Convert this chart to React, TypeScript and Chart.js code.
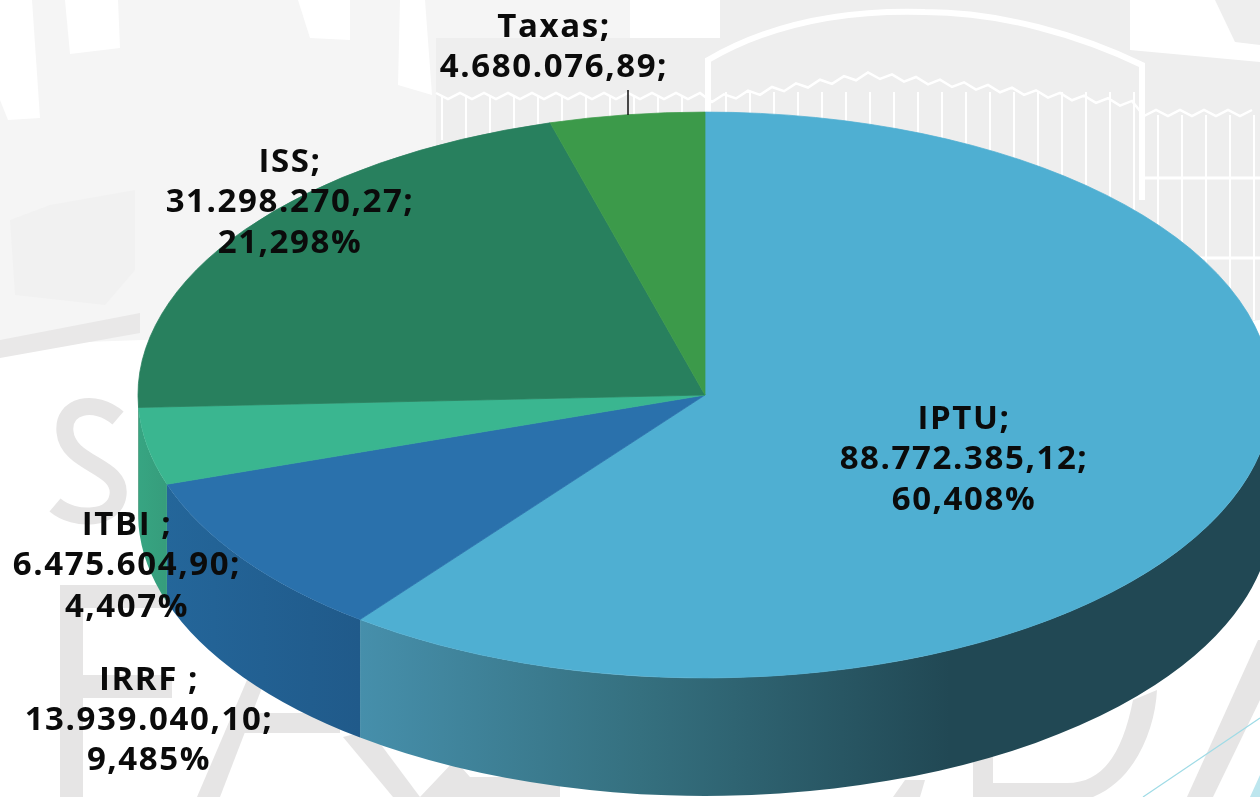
import React, { useEffect, useRef } from "react";
import { Chart, registerables } from "chart.js";

Chart.register(...registerables);

const categories = ["IPTU", "IRRF", "ITBI", "ISS", "Taxas"];
// Slice sizes: the green Taxas wedge covers about 4,4% of the
// circle, so it is larger than the value printed in its label.
const seriesValues = [88772385.12, 13939040.1, 6475604.9, 31298270.27, 6470000];
const sliceColors = ["#4fafd2", "#2a71ac", "#3ab690", "#28805e", "#3c9a4a"];
const labelTexts = [
  ["IPTU;", "88.772.385,12;", "60,408%"],
  ["IRRF ;", "13.939.040,10;", "9,485%"],
  ["ITBI ;", "6.475.604,90;", "4,407%"],
  ["ISS;", "31.298.270,27;", "21,298%"],
  ["Taxas;", "4.680.076,89;"],
];
const labelCenters = [964, 149, 127, 290, 554];
const labelBaselines = [
  [429, 469, 510],
  [690, 730, 770],
  [535, 575, 617],
  [172, 212, 253],
  [37, 77],
];
const sideStops: [number, string][][] = [
  [[360, "#468fab"], [640, "#35707f"], [950, "#214854"], [1260, "#214854"]],
  [[165, "#24669a"], [360, "#205a8a"]],
  [[138, "#37a582"], [165, "#369d7c"]],
  [[0, "#28805e"], [1, "#28805e"]],
  [[0, "#3c9a4a"], [1, "#3c9a4a"]],
];

const SQUASH = 0.499;
const DEPTH = 118;

const pie3d = {
  id: "pie3d",
  beforeDatasetDraw(chart: any) {
    const { ctx } = chart;
    const arcs = chart.getDatasetMeta(0).data;
    arcs.forEach((arc: any, i: number) => {
      const { x: cx, y: cy, outerRadius: R } = arc;
      const s = arc.startAngle;
      const e = arc.endAngle;
      for (const shift of [0, -2 * Math.PI]) {
        const a = Math.max(s + shift, 0);
        const b = Math.min(e + shift, Math.PI);
        if (b <= a) continue;
        const stops = sideStops[i];
        const x0 = stops[0][0];
        const x1 = stops[stops.length - 1][0];
        const g = ctx.createLinearGradient(x0, 0, x1, 0);
        stops.forEach(([p, c]) => g.addColorStop(Math.min(1, Math.max(0, (p - x0) / (x1 - x0))), c));
        ctx.save();
        ctx.fillStyle = g;
        ctx.beginPath();
        ctx.ellipse(cx, cy, R, R * SQUASH, 0, a, b, false);
        ctx.ellipse(cx, cy + DEPTH, R, R * SQUASH, 0, b, a, true);
        ctx.closePath();
        ctx.fill();
        ctx.restore();
      }
    });
    const first = arcs[0];
    ctx.save();
    ctx.translate(first.x, first.y);
    ctx.scale(1, SQUASH);
    ctx.translate(-first.x, -first.y);
  },
  afterDatasetDraw(chart: any) {
    chart.ctx.restore();
  },
  afterDraw(chart: any) {
    const { ctx } = chart;
    ctx.save();
    ctx.fillStyle = "#0b0b0b";
    ctx.textAlign = "center";
    ctx.textBaseline = "alphabetic";
    ctx.font = '700 33px "Open Sans"';
    ctx.letterSpacing = "1.6px";
    labelTexts.forEach((lines, i) => {
      lines.forEach((t, j) => ctx.fillText(t, labelCenters[i], labelBaselines[i][j]));
    });
    ctx.strokeStyle = "#111111";
    ctx.lineWidth = 1.5;
    ctx.beginPath();
    ctx.moveTo(628, 90);
    ctx.lineTo(628, 115);
    ctx.stroke();
    ctx.restore();
  },
};

function Backdrop() {
  const fence: number[] = [];
  for (let x = 726; x < 1260; x += 24) fence.push(x);
  const leftFence: number[] = [];
  for (let x = 442; x < 720; x += 24) leftFence.push(x);
  const zig: string[] = [];
  for (let x = 436; x <= 1260; x += 12) {
    let top = 93;
    if (x >= 706 && x <= 871) top = 97 - ((x - 706) / 165) * 25;
    else if (x > 871 && x <= 1142) top = 72 + ((x - 871) / 271) * 30;
    else if (x > 1142) top = 110;
    zig.push(`${x},${top + (Math.round((x - 436) / 12) % 2 ? 6 : 0)}`);
  }
  const grey = "#e6e5e5";
  return (
    <svg width={1260} height={797} style={{ position: "absolute", left: 0, top: 0 }}>
      <rect width={1260} height={797} fill="#ffffff" />
      <path d="M0 0H720V320L0 345Z" fill="#f5f5f5" />
      <path d="M0 340L140 313V333L0 358Z" fill="#e9e8e8" />
      <path d="M0 0H32L40 118L8 120L0 100Z" fill="#ffffff" />
      <path d="M65 0H118L120 48L70 54Z" fill="#ffffff" />
      <path d="M298 0H350V40L310 38Z" fill="#ffffff" />
      <path d="M400 0H425L432 95L398 85Z" fill="#ffffff" />
      <path d="M50 205L135 190L135 270L105 305L15 295L10 220Z" fill="#f1f1f1" />
      <path d="M436 120L436 38H720V320H436Z" fill="#eeeeee" />
      <path d="M630 0H720V38H630Z" fill="#ffffff" />
      <path d="M720 0H1130V50H1260V320L1150 330H720Z" fill="#eeeeee" />
      <path d="M1130 0H1260V62L1130 50Z" fill="#ffffff" />
      <path d="M1215 0H1260V45L1235 42Z" fill="#eeeeee" />
      <path d="M708 112V60C780 18 860 10 925 12C1000 12 1080 35 1142 65V200" fill="none" stroke="#ffffff" strokeWidth={6} />
      <polyline points={zig.join(" ")} fill="none" stroke="#ffffff" strokeWidth={2.5} />
      {fence.map((x) => (
        <line key={x} x1={x} x2={x} y1={x > 1142 ? 115 : 92} y2={320} stroke="#ffffff" strokeWidth={2} />
      ))}
      {leftFence.map((x) => (
        <line key={x} x1={x} x2={x} y1={97} y2={140} stroke="#ffffff" strokeWidth={2} />
      ))}
      <line x1={1142} x2={1260} y1={178} y2={178} stroke="#ffffff" strokeWidth={3} />
      <line x1={1142} x2={1260} y1={258} y2={258} stroke="#ffffff" strokeWidth={3} />
      <path d="M118 418C95 398 62 405 65 432C68 465 122 465 118 495C115 520 75 522 55 505" fill="none" stroke={grey} strokeWidth={17} />
      <path d="M60 797V585H175V608H83V675H172V698H83V797Z" fill={grey} />
      <path d="M197 797L247 680L265 680L220 797Z" fill={grey} />
      <path d="M233 713H340V733H225Z" fill={grey} />
      <path d="M343 737L370 730L420 797H393Z" fill={grey} />
      <path d="M420 797L455 760L470 777H560V797Z" fill={grey} />
      <path d="M893 797L905 780H925L920 797Z" fill={grey} />
      <path d="M973 797V745H993V783H1067C1105 783 1123 750 1133 700L1157 690C1155 730 1135 780 1093 797Z" fill={grey} />
      <path d="M1187 797L1258 640H1260V700L1213 797Z" fill={grey} />
      <path d="M1250 797L1260 775V797Z" fill="#bde6ee" />
      <path d="M1143 797L1260 718" fill="none" stroke="#9fdbe6" strokeWidth={1.2} />
    </svg>
  );
}

export default function App() {
  const ref = useRef<HTMLCanvasElement>(null);
  useEffect(() => {
    const chart = new Chart(ref.current!, {
      type: "pie",
      data: {
        labels: categories,
        datasets: [
          {
            data: seriesValues,
            backgroundColor: sliceColors,
            borderColor: sliceColors,
            borderWidth: 1,
            radius: 567,
            clip: false,
          } as any,
        ],
      },
      options: {
        responsive: false,
        animation: false,
        events: [],
        layout: { padding: { left: 150, bottom: 7 } },
        plugins: { legend: { display: false }, title: { display: false }, tooltip: { enabled: false } },
      },
      plugins: [pie3d],
    });
    return () => chart.destroy();
  }, []);
  return (
    <div style={{ position: "fixed", left: 0, top: 0, width: 1260, height: 797, overflow: "hidden", background: "#fff" }}>
      <Backdrop />
      <canvas ref={ref} width={1260} height={797} style={{ position: "absolute", left: 0, top: 0, display: "block" }} />
    </div>
  );
}
